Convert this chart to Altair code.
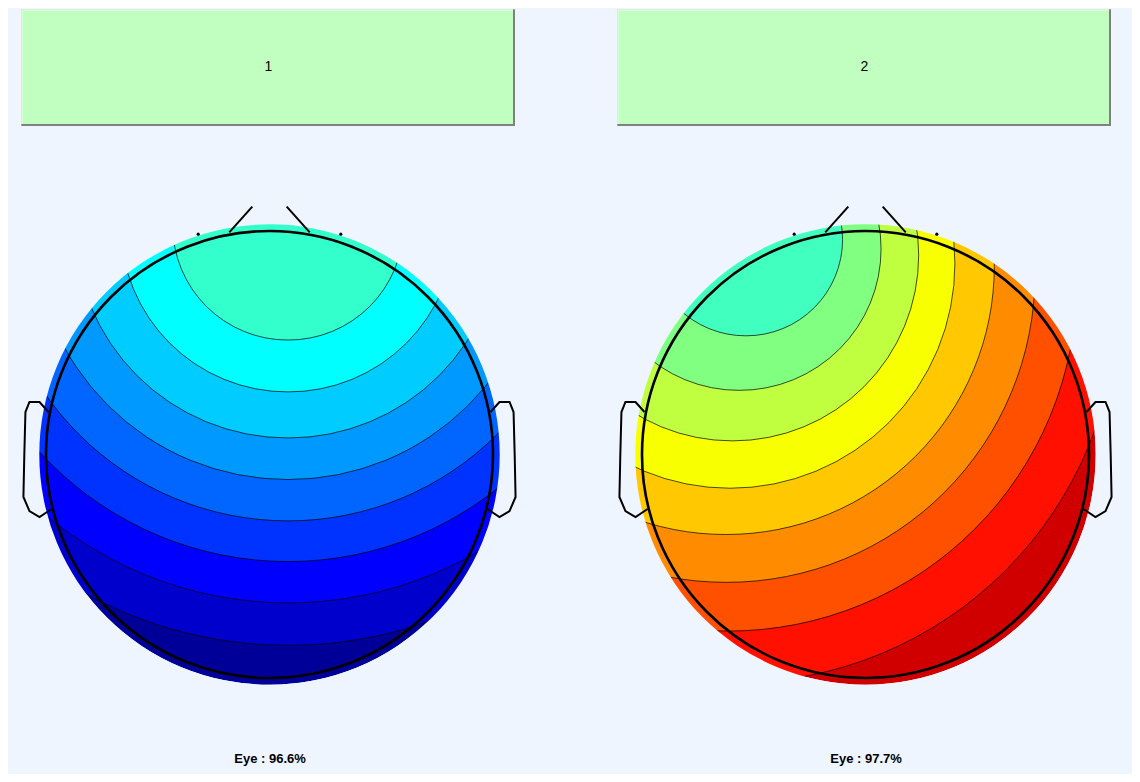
import altair as alt
import pandas as pd

# ---- data (head-radius units: head centre 0,0, radius 1) ----
titles = ["1", "2"]
footers = ["Eye : 96.6%", "Eye : 97.7%"]

# contour circles, outermost first, with the colour of the band just inside each one
left_cx = [0.083, 0.083, 0.083, 0.083, 0.083, 0.083, 0.083, 0.083]
left_cy = [1.027, 1.027, 1.027, 1.027, 1.027, 1.027, 1.027, 1.027]
left_r = [1.881, 1.691, 1.506, 1.324, 1.139, 0.953, 0.747, 0.515]
left_cols = ["#0000CC", "#0000FF", "#0033FF", "#0066FF",
             "#0099FF", "#00CCFF", "#00FFFF", "#33FFCC"]
left_base = "#000099"

right_cx = [-0.587, -0.613, -0.623, -0.625, -0.606, -0.595, -0.565, -0.535]
right_cy = [0.694, 0.768, 0.807, 0.841, 0.855, 0.892, 0.920, 0.962]
right_r = [1.716, 1.558, 1.379, 1.199, 1.006, 0.831, 0.633, 0.431]
right_cols = ["#FF1000", "#FF5000", "#FF8C00", "#FFC800",
              "#F8FF00", "#BFFF40", "#80FF80", "#40FFBF"]
right_base = "#D00000"

# right ear outline (left ear is its mirror image)
ear_x = [0.989, 1.029, 1.074, 1.092, 1.097, 1.101, 1.074, 1.029, 0.975]
ear_y = [0.190, 0.235, 0.235, 0.190, 0.000, -0.190, -0.253, -0.280, -0.244]

# nose strokes (apex cut off by the axes)
nose_x = [-0.180, -0.077, 0.077, 0.180]
nose_y = [0.994, 1.109, 1.109, 0.994]
nose_side = ["l", "l", "r", "r"]

# electrodes shown on the rim
elec_x = [-0.319, 0.319]
elec_y = [0.986, 0.986]

# ---- layout ----
BG = "#EEF5FF"
PX = 223.5            # pixels per head radius
W, H = 528, 766       # panel size
CX, CY = 261.5, 446.5  # head centre inside the panel
DISC = 1.03           # interpolated area reaches a bit past the head outline

xs = alt.Scale(domain=[-CX / PX, (W - CX) / PX], nice=False, zero=False)
ys = alt.Scale(domain=[-(H - CY) / PX, CY / PX], nice=False, zero=False)
rs = alt.Scale(type="linear", domain=[0, 4], range=[0, 4 * PX], zero=True)


def pos():
    return dict(x=alt.X("x:Q", scale=xs, axis=None),
                y=alt.Y("y:Q", scale=ys, axis=None))


def panel(cx, cy, r, cols, base, title, footer):
    discs = pd.DataFrame({"x": [0.0] + cx, "y": [0.0] + cy, "r": [DISC] + r,
                          "col": [base] + cols, "k": list(range(len(r) + 1))})
    contours = pd.DataFrame({"x": cx, "y": cy, "r": r})

    fill = alt.Chart(discs).mark_arc(clip=True, theta=0, theta2=6.2832).encode(
        **pos(),
        radius=alt.Radius("r:Q", scale=rs, stack=False),
        color=alt.Color("col:N", scale=None),
        order=alt.Order("k:Q"))

    lines = alt.Chart(contours).mark_arc(
        clip=True, theta=0, theta2=6.2832, filled=False,
        stroke="black", strokeWidth=0.7).encode(
        **pos(), radius=alt.Radius("r:Q", scale=rs, stack=False))

    mask = alt.Chart(pd.DataFrame({"x": [0.0], "y": [0.0], "r": [4.0],
                                   "r2": [DISC]})).mark_arc(
        clip=True, theta=0, theta2=6.2832, color=BG).encode(
        **pos(), radius=alt.Radius("r:Q", scale=rs, stack=False),
        radius2="r2:Q")

    head = alt.Chart(pd.DataFrame({"x": [0.0], "y": [0.0], "r": [1.0]})).mark_arc(
        theta=0, theta2=6.2832, filled=False, stroke="black",
        strokeWidth=2.6).encode(
        **pos(), radius=alt.Radius("r:Q", scale=rs, stack=False))

    ears_df = pd.DataFrame({
        "x": ear_x + [-v for v in ear_x],
        "y": ear_y + ear_y,
        "side": ["r"] * len(ear_x) + ["l"] * len(ear_x),
        "k": list(range(len(ear_x))) * 2})
    ears = alt.Chart(ears_df).mark_line(color="black", strokeWidth=2).encode(
        **pos(), detail="side:N", order="k:Q")

    nose = alt.Chart(pd.DataFrame({"x": nose_x, "y": nose_y,
                                   "side": nose_side})).mark_line(
        color="black", strokeWidth=2).encode(**pos(), detail="side:N")

    dots = alt.Chart(pd.DataFrame({"x": elec_x, "y": elec_y})).mark_circle(
        color="black", size=10, opacity=1).encode(**pos())

    tdf = pd.DataFrame({"t": [title]})
    box_dark = alt.Chart(tdf).mark_rect(color="#808080").encode(
        x=alt.value(13.3), x2=alt.value(507), y=alt.value(1.3), y2=alt.value(118))
    box_light = alt.Chart(tdf).mark_rect(color="#FFFFFF").encode(
        x=alt.value(13.3), x2=alt.value(505), y=alt.value(1.3), y2=alt.value(116))
    box = alt.Chart(tdf).mark_rect(color="#C0FFC0").encode(
        x=alt.value(14.3), x2=alt.value(505), y=alt.value(2.3), y2=alt.value(116))
    label = alt.Chart(tdf).mark_text(
        font="Liberation Sans", fontSize=14, color="black",
        baseline="middle").encode(
        x=alt.value(260.5), y=alt.value(59), text="t:N")

    foot = alt.Chart(pd.DataFrame({"t": [footer]})).mark_text(
        font="Liberation Sans", fontSize=13, fontWeight="bold",
        color="black", baseline="middle").encode(
        x=alt.value(262), y=alt.value(751), text="t:N")

    return alt.layer(fill, lines, mask, head, ears, nose, dots,
                     box_dark, box_light, box, label, foot).properties(
        width=W, height=H)


left = panel(left_cx, left_cy, left_r, left_cols, left_base, titles[0], footers[0])
right = panel(right_cx, right_cy, right_r, right_cols, right_base, titles[1], footers[1])

chart = alt.hconcat(left, right, spacing=68).properties(
    padding=0, background=BG).configure_view(strokeWidth=0)

chart.save("out.html", embed_options={"renderer": "svg", "actions": False})
